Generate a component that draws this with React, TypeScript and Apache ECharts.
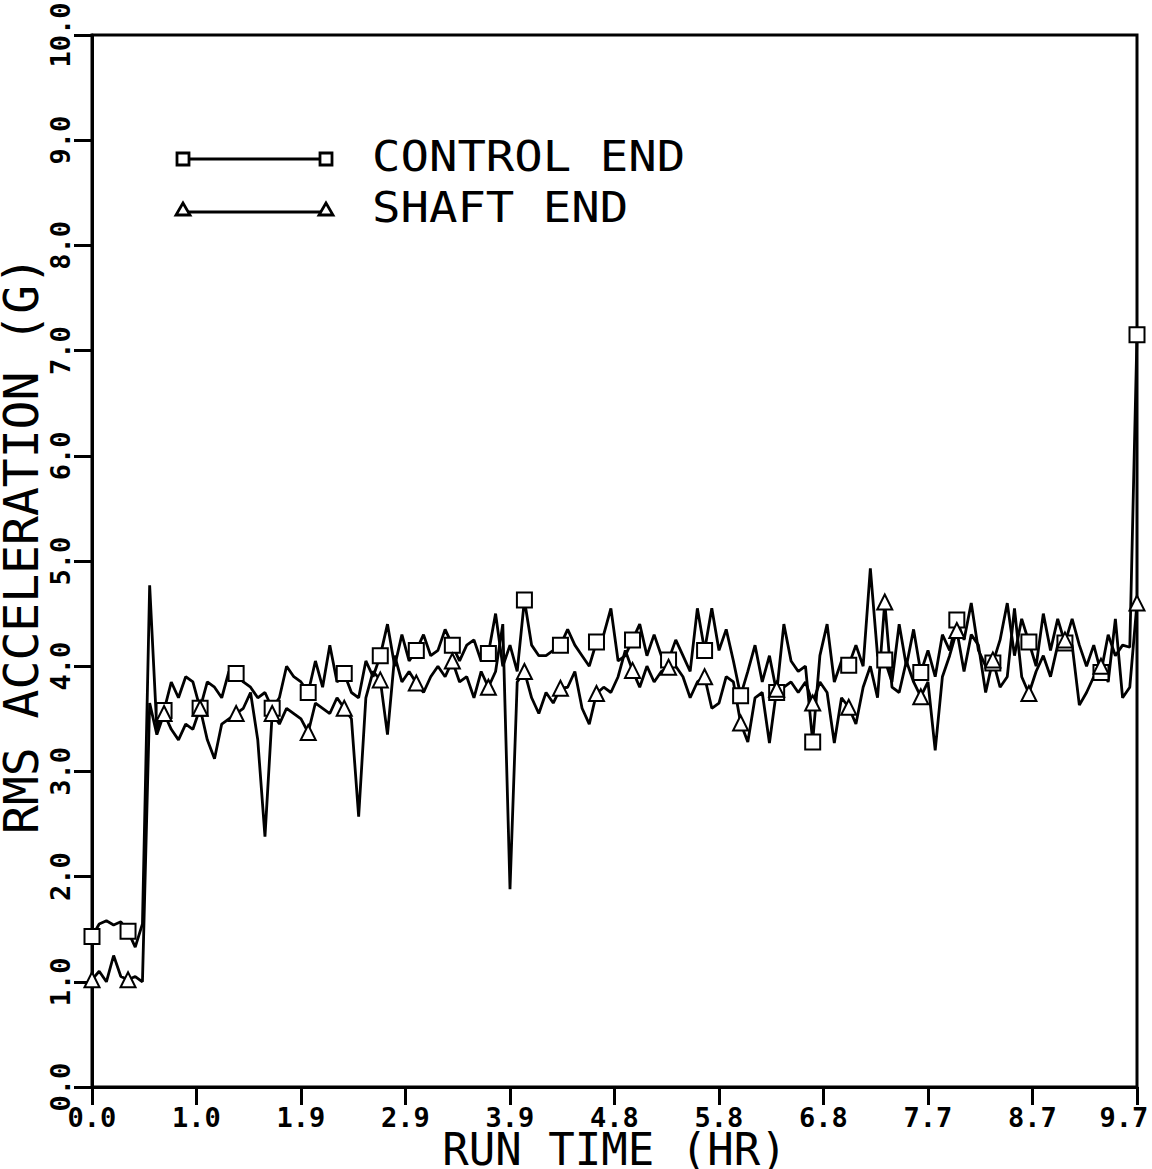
import React, { useEffect, useRef } from 'react';
import * as echarts from 'echarts';

// Sampling: one reading every 4 minutes (1/15 hr)
const sampleStepHr = 1 / 15;
const markerEvery = 5;

const seriesNames = ['CONTROL END', 'SHAFT END'];

const controlEnd = [
  1.43, 1.55, 1.58, 1.54, 1.57,
  1.48, 1.33, 1.55, 4.77, 3.40,
  3.58, 3.85, 3.70, 3.90, 3.85,
  3.60, 3.85, 3.80, 3.70, 3.95,
  3.93, 3.85, 3.80, 3.70, 3.75,
  3.60, 3.70, 4.00, 3.90, 3.85,
  3.75, 4.05, 3.80, 4.20, 3.85,
  3.93, 3.75, 3.70, 4.05, 3.90,
  4.10, 4.40, 4.00, 4.30, 4.05,
  4.15, 4.30, 4.10, 4.15, 4.35,
  4.20, 4.05, 4.20, 4.25, 4.05,
  4.12, 4.50, 4.00, 4.20, 3.95,
  4.63, 4.20, 4.10, 4.10, 4.15,
  4.20, 4.35, 4.20, 4.10, 4.00,
  4.23, 4.30, 4.55, 4.05, 4.10,
  4.25, 4.40, 4.10, 4.30, 4.10,
  4.06, 4.25, 4.10, 3.95, 4.55,
  4.15, 4.55, 4.15, 4.35, 4.05,
  3.72, 3.95, 4.20, 3.85, 4.10,
  3.75, 4.40, 4.05, 3.95, 4.00,
  3.28, 4.10, 4.40, 3.85, 4.05,
  4.01, 4.20, 4.00, 4.93, 4.10,
  4.06, 3.85, 4.40, 4.00, 4.35,
  3.94, 4.15, 3.90, 4.30, 4.15,
  4.44, 4.25, 4.60, 4.15, 4.00,
  4.03, 4.25, 4.60, 4.10, 4.45,
  4.23, 4.00, 4.50, 4.15, 4.45,
  4.22, 4.45, 4.20, 4.00, 4.20,
  3.94, 4.30, 4.10, 4.20, 4.18,
  7.15,
];

const shaftEnd = [
  1.02, 1.10, 1.00, 1.25, 1.05,
  1.02, 1.05, 1.00, 3.65, 3.35,
  3.55, 3.40, 3.30, 3.45, 3.40,
  3.60, 3.30, 3.12, 3.45, 3.50,
  3.55, 3.60, 3.75, 3.30, 2.38,
  3.55, 3.45, 3.60, 3.55, 3.50,
  3.37, 3.65, 3.60, 3.55, 3.70,
  3.60, 3.50, 2.57, 3.70, 3.95,
  3.87, 3.35, 4.10, 3.85, 3.95,
  3.84, 3.75, 3.90, 4.00, 3.90,
  4.05, 3.85, 3.90, 3.70, 3.95,
  3.80, 3.95, 4.40, 1.88, 3.85,
  3.95, 3.70, 3.55, 3.75, 3.65,
  3.79, 3.80, 3.95, 3.60, 3.45,
  3.74, 3.80, 3.75, 3.90, 4.15,
  3.96, 3.80, 4.00, 3.85, 3.95,
  3.99, 4.00, 3.90, 3.70, 3.85,
  3.90, 3.60, 3.65, 3.90, 3.85,
  3.46, 3.28, 3.70, 3.75, 3.27,
  3.78, 3.80, 3.85, 3.75, 3.85,
  3.65, 3.85, 3.75, 3.27, 3.70,
  3.61, 3.45, 3.80, 4.00, 3.70,
  4.61, 3.80, 3.75, 4.05, 3.85,
  3.71, 3.85, 3.20, 3.90, 4.10,
  4.34, 3.95, 4.30, 4.20, 3.75,
  4.06, 3.80, 3.90, 4.55, 3.90,
  3.74, 3.95, 4.10, 3.90, 4.20,
  4.25, 4.20, 3.63, 3.75, 3.90,
  4.00, 3.85, 4.45, 3.70, 3.80,
  4.60,
];

const xTickLabels = ['0.0', '1.0', '1.9', '2.9', '3.9', '4.8', '5.8', '6.8', '7.7', '8.7', '9.7'];
const yTickLabels = ['0.0', '1.0', '2.0', '3.0', '4.0', '5.0', '6.0', '7.0', '8.0', '9.0', '10.0'];

const xAxisName = 'RUN TIME (HR)';
const yAxisName = 'RMS ACCELERATION (G)';

const FONT = 'DejaVu Sans Mono';

export default function App() {
  const ref = useRef<HTMLDivElement>(null);

  useEffect(() => {
    document.body.style.margin = '0';
    const chart = echarts.init(ref.current as HTMLDivElement, null, { renderer: 'svg' });
    const xMax = (controlEnd.length - 1) * sampleStepHr;
    const xInterval = xMax / (xTickLabels.length - 1);
    const toData = (arr: number[]) => arr.map((v, i) => [i * sampleStepHr, v]);

    const lineW = 2.8;
    const legendText = { fontFamily: FONT, fontSize: 43, fill: '#000', verticalAlign: 'middle', align: 'left' };

    chart.setOption({
      animation: false,
      backgroundColor: '#fff',
      grid: {
        left: 92, right: 15, top: 35, bottom: 82,
        containLabel: false,
        outerBoundsMode: 'none',
        show: true, borderColor: '#000', borderWidth: 3, backgroundColor: 'transparent',
      },
      xAxis: {
        type: 'value',
        min: 0,
        max: xMax,
        interval: xInterval,
        name: xAxisName,
        nameLocation: 'middle',
        nameGap: 40,
        nameMoveOverlap: false,
        nameTextStyle: { fontFamily: FONT, fontSize: 44, color: '#000' },
        axisLine: { lineStyle: { color: '#000', width: 3 } },
        axisTick: { length: 18, lineStyle: { color: '#000', width: 3 } },
        axisLabel: {
          fontFamily: FONT, fontSize: 27, fontWeight: 'bold', color: '#000', margin: 17,
          showMinLabel: true, showMaxLabel: true,
          hideOverlap: false,
          rich: { last: { fontFamily: FONT, fontSize: 27, fontWeight: 'bold', color: '#000', padding: [0, 26, 0, 0] } },
          formatter: (v: number) => {
            const k = Math.round(v / xInterval);
            if (Math.abs(k * xInterval - v) > 1e-6) return '';
            const t = xTickLabels[k] ?? '';
            return k === xTickLabels.length - 1 ? `{last|${t}}` : t;
          },
        },
        splitLine: { show: false },
      },
      yAxis: {
        type: 'value',
        min: 0,
        max: 10,
        interval: 1,
        name: yAxisName,
        nameLocation: 'middle',
        nameGap: 47,
        nameRotate: 90,
        nameMoveOverlap: false,
        nameTextStyle: { fontFamily: FONT, fontSize: 48, color: '#000', padding: [0, 0, 0, 32] },
        axisLine: { lineStyle: { color: '#000', width: 3 } },
        axisTick: { length: 18, lineStyle: { color: '#000', width: 3 } },
        axisLabel: {
          fontFamily: FONT, fontSize: 27, fontWeight: 'bold', color: '#000', margin: 32,
          rotate: 90, align: 'center', verticalAlign: 'middle',
          formatter: (v: number) => yTickLabels[Math.round(v)] ?? '',
        },
        splitLine: { show: false },
      },
      graphic: [
        // legend row 1: CONTROL END
        { type: 'line', shape: { x1: 183, y1: 159, x2: 326, y2: 159 }, style: { stroke: '#000', lineWidth: lineW } },
        { type: 'rect', shape: { x: 177, y: 153, width: 12, height: 12 }, style: { fill: '#fff', stroke: '#000', lineWidth: lineW } },
        { type: 'rect', shape: { x: 320, y: 153, width: 12, height: 12 }, style: { fill: '#fff', stroke: '#000', lineWidth: lineW } },
        { type: 'text', x: 372, y: 156, scaleX: 1.1, style: { ...legendText, text: seriesNames[0] } },
        // legend row 2: SHAFT END
        { type: 'line', shape: { x1: 183, y1: 212, x2: 326, y2: 212 }, style: { stroke: '#000', lineWidth: lineW } },
        { type: 'polygon', shape: { points: [[183, 203], [176, 215], [190, 215]] }, style: { fill: '#fff', stroke: '#000', lineWidth: lineW } },
        { type: 'polygon', shape: { points: [[326, 203], [319, 215], [333, 215]] }, style: { fill: '#fff', stroke: '#000', lineWidth: lineW } },
        { type: 'text', x: 372, y: 207, scaleX: 1.1, style: { ...legendText, text: seriesNames[1] } },
      ],
      series: [
        {
          name: seriesNames[0],
          type: 'line',
          data: toData(controlEnd),
          showAllSymbol: true,
          symbol: (_v: any, p: any) => (p.dataIndex % markerEvery === 0 ? 'emptyRect' : 'none'),
          symbolSize: 15,
          lineStyle: { color: '#000', width: lineW },
          itemStyle: { color: '#000', borderColor: '#000', borderWidth: lineW },
          emphasis: { disabled: true },
          clip: false,
        },
        {
          name: seriesNames[1],
          type: 'line',
          data: toData(shaftEnd),
          showAllSymbol: true,
          symbol: (_v: any, p: any) => (p.dataIndex % markerEvery === 0 ? 'emptyTriangle' : 'none'),
          symbolSize: 15,
          lineStyle: { color: '#000', width: lineW },
          itemStyle: { color: '#000', borderColor: '#000', borderWidth: lineW },
          emphasis: { disabled: true },
          clip: false,
        },
      ],
    });

    return () => chart.dispose();
  }, []);

  return (
    <div
      ref={ref}
      style={{ position: 'absolute', left: 0, top: 0, width: 1152, height: 1169, background: '#fff' }}
    />
  );
}
